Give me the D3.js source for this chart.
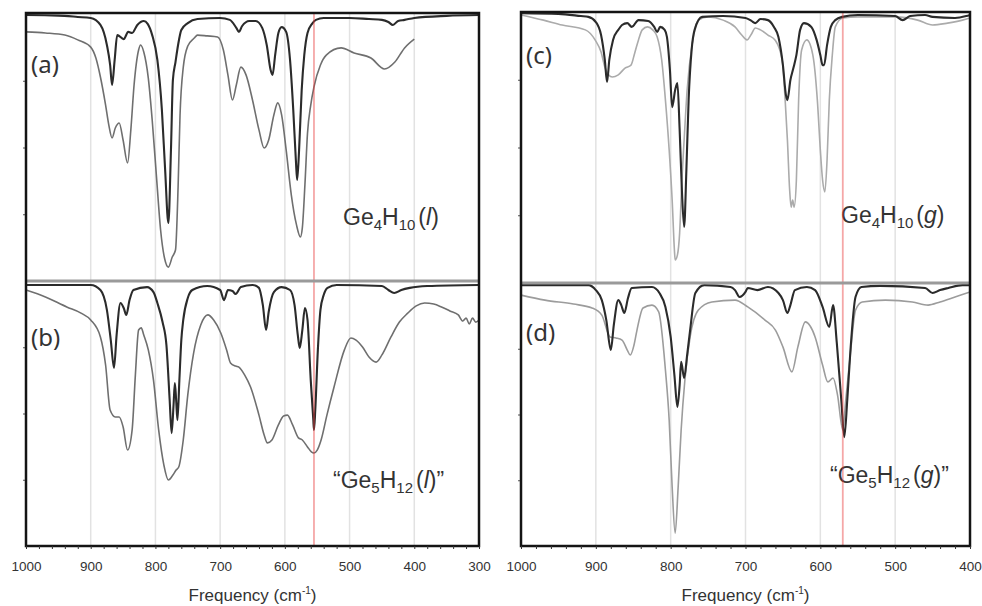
<!DOCTYPE html>
<html>
<head>
<meta charset="utf-8">
<script src="https://cdn.jsdelivr.net/npm/d3@7"></script>
<style>
body { margin: 0; background: #fff; }
svg { display: block; font-family: "Liberation Sans", Arial, sans-serif; }
</style>
</head>
<body>
<svg id="chart" width="982" height="606"></svg>
<script>
// transmittance (%) vs frequency (cm-1)
// dark = calculated, grey = measured
const calcA = [[1000,99.6],[950,99.4],[920,98.9],[900,98.5],[885,95.9],[875,88.4],[870,80.9],[867,73.4],[863,82.8],[859,92.1],[849,90.6],[842,93.3],[836,92.9],[828,95.9],[818,97.4],[812,96.3],[805,92.1],[797,82.8],[790,64.0],[785,41.6],[780,21.7],[776,49.1],[773,75.3],[769,82.0],[765,88.4],[760,94.0],[750,96.6],[735,98.1],[700,98.5],[685,97.8],[675,94.8],[671,93.3],[666,95.5],[655,97.4],[645,97.4],[635,94.8],[628,88.4],[622,79.0],[619,77.2],[615,84.6],[610,92.9],[605,95.1],[598,93.3],[592,82.8],[587,64.0],[583,45.3],[581,37.8],[578,49.1],[574,71.5],[570,84.6],[565,92.9],[558,96.3],[552,97.8],[540,98.5],[500,98.5],[470,98.1],[450,97.8],[440,97.0],[433,95.9],[425,97.4],[415,97.8],[400,98.5],[350,99.3],[300,99.6]]
const exptA = [[1000,93.3],[970,92.9],[940,92.1],[920,90.3],[900,87.6],[892,83.5],[885,76.4],[877,65.9],[872,58.4],[867,53.6],[862,57.3],[856,59.2],[850,52.8],[843,44.2],[838,56.6],[833,73.4],[826,86.5],[823,88.4],[818,85.8],[811,76.0],[805,60.3],[798,37.8],[792,19.1],[786,8.6],[780,5.2],[774,9.0],[769,11.6],[765,35.0],[762,62.0],[757,80.0],[750,88.0],[740,91.0],[735,92.1],[720,91.8],[704,91.4],[695,86.5],[688,77.2],[681,67.8],[675,73.4],[668,80.1],[660,77.2],[650,67.8],[640,56.6],[632,49.8],[625,52.8],[617,62.2],[611,66.7],[605,62.2],[598,49.1],[590,32.2],[582,21.0],[576,16.5],[573,19.9],[569,36.0],[565,55.4],[560,65.9],[555,72.7],[545,80.9],[536,84.6],[513,87.3],[493,85.4],[467,83.5],[446,79.4],[430,82.0],[415,87.3],[400,90.6]]

const calcB = [[1000,98.5],[900,98.5],[885,96.6],[875,89.1],[869,77.7],[864,67.2],[860,79.6],[854,91.7],[849,89.8],[845,87.2],[840,92.8],[834,96.6],[813,97.7],[803,95.8],[797,91.7],[789,84.5],[783,75.8],[778,55.1],[775,42.6],[772,53.2],[770,61.5],[768,55.1],[766,47.5],[763,62.6],[760,77.7],[757,85.3],[750,93.6],[743,96.6],[720,98.1],[700,96.6],[694,92.8],[688,96.6],[681,96.2],[676,95.1],[668,97.7],[650,98.5],[640,97.4],[634,90.9],[629,81.5],[625,88.3],[617,95.8],[605,97.7],[592,96.6],[585,90.9],[580,79.6],[577,74.7],[573,81.5],[569,89.8],[565,85.3],[560,62.6],[556,47.5],[555,43.8],[553,51.3],[549,74.0],[545,89.1],[540,94.7],[534,97.4],[520,98.5],[450,98.1],[440,96.6],[431,95.5],[420,96.6],[407,97.4],[380,98.1],[300,98.5]]
const exptB = [[1000,96.6],[970,94.0],[937,90.2],[915,87.9],[900,85.3],[885,78.9],[877,68.3],[870,51.3],[862,48.7],[856,48.7],[850,45.0],[843,36.2],[836,43.8],[831,64.5],[826,81.5],[822,82.3],[818,79.6],[811,74.0],[803,62.6],[795,43.8],[787,30.6],[780,24.9],[773,26.8],[768,28.7],[764,29.8],[757,40.0],[750,57.0],[741,72.8],[730,83.4],[719,87.2],[710,85.3],[699,80.4],[690,74.0],[684,69.1],[676,67.9],[671,67.5],[662,64.5],[653,60.0],[640,49.4],[632,41.9],[627,38.9],[620,40.0],[610,45.7],[602,49.1],[596,49.4],[588,45.7],[579,40.8],[573,40.0],[565,37.4],[559,35.5],[555,35.1],[550,36.2],[544,40.0],[535,49.4],[524,60.0],[508,74.0],[498,78.5],[490,77.7],[480,75.1],[470,71.3],[459,69.4],[450,72.1],[436,78.9],[423,84.5],[410,87.9],[397,90.6],[384,91.7],[370,91.3],[358,90.2],[345,88.7],[332,87.2],[325,84.9],[320,86.0],[315,83.8],[310,86.0],[305,84.5],[300,85.3]]

const calcC = [[1000,99.6],[950,99.3],[920,98.5],[910,98.2],[900,96.3],[893,91.5],[888,82.3],[885,74.2],[882,82.3],[877,89.7],[870,93.4],[865,95.2],[858,95.9],[852,94.5],[843,97.0],[830,96.7],[822,94.5],[818,92.6],[814,94.5],[808,93.4],[805,90.8],[801,78.6],[798,64.9],[794,71.2],[791,73.8],[788,56.5],[785,34.3],[782,20.7],[779,41.7],[776,67.5],[772,86.0],[768,93.4],[758,98.2],[730,98.5],[700,97.8],[692,96.7],[687,95.9],[680,97.4],[670,97.0],[662,94.5],[656,90.8],[650,80.4],[646,69.4],[644,67.5],[640,74.9],[636,79.3],[632,84.1],[627,93.4],[622,95.9],[612,94.5],[605,89.7],[600,84.1],[597,80.4],[595,80.4],[591,87.8],[586,94.5],[580,97.0],[571,98.2],[550,98.9],[500,98.5],[490,97.0],[480,98.5],[460,98.9],[450,98.2],[420,97.8],[405,98.5],[400,98.9]]
const exptC = [[1000,98.9],[970,97.0],[945,95.2],[914,93.4],[901,89.7],[893,85.2],[888,79.7],[883,76.8],[878,76.0],[870,76.8],[861,79.3],[853,80.4],[848,84.9],[843,89.7],[838,93.4],[831,94.5],[824,93.4],[818,90.8],[812,82.3],[807,67.5],[802,49.1],[798,30.6],[795,12.2],[794,8.5],[791,10.3],[788,18.5],[785,38.0],[782,52.8],[778,71.2],[771,88.6],[763,97.0],[750,98.2],[730,97.0],[714,94.5],[705,91.5],[698,89.7],[692,91.9],[687,94.1],[680,93.4],[670,91.5],[660,89.5],[651,82.3],[647,67.5],[644,52.8],[641,34.3],[639,28.0],[637,30.6],[635,28.0],[632,38.0],[629,67.5],[625,86.0],[618,89.7],[610,84.1],[604,67.5],[600,49.1],[597,38.0],[594,33.6],[591,45.4],[588,67.5],[584,84.1],[580,94.5],[570,97.8],[550,98.2],[500,98.2],[470,97.0],[450,95.2],[430,95.9],[410,97.0],[400,97.8]]

const calcD = [[1000,99.2],[910,99.2],[900,97.3],[892,93.5],[886,85.9],[880,74.5],[876,84.0],[870,93.5],[866,91.6],[862,88.6],[857,94.3],[852,98.1],[825,98.5],[815,96.2],[807,90.9],[800,79.5],[795,65.0],[791,52.9],[788,61.2],[786,70.0],[782,63.9],[778,72.6],[774,82.1],[767,96.2],[755,99.2],[720,98.5],[714,97.3],[708,94.7],[700,96.6],[697,98.1],[684,97.3],[670,98.5],[656,96.2],[650,93.5],[644,88.6],[640,91.6],[634,97.3],[618,98.5],[607,97.3],[597,90.9],[588,83.3],[583,91.6],[578,77.2],[572,55.5],[568,41.4],[564,55.5],[560,73.4],[553,94.7],[545,98.5],[520,98.9],[460,98.1],[450,96.2],[440,97.3],[429,98.1],[410,99.2],[400,99.2]]
const exptD = [[1000,95.4],[968,93.5],[930,92.0],[905,90.5],[892,87.8],[881,79.5],[873,79.1],[865,78.3],[858,74.5],[854,72.6],[849,76.4],[845,82.1],[837,90.5],[825,91.6],[816,89.0],[807,66.9],[802,47.9],[798,22.4],[794,4.9],[790,22.4],[786,44.1],[781,63.1],[774,79.5],[763,89.7],[745,92.8],[714,93.5],[697,90.9],[674,85.9],[660,82.1],[650,75.7],[638,66.2],[630,75.7],[620,85.2],[607,79.5],[597,68.8],[590,62.4],[583,63.9],[577,57.4],[570,44.1],[566,55.5],[560,72.6],[553,89.7],[544,92.8],[513,93.5],[477,92.8],[456,91.6],[440,92.8],[420,94.7],[400,96.6]]

const LEFT_TICKS = d3.range(1000, 299, -20)
const RIGHT_TICKS = d3.range(1000, 399, -20)
const LEFT_GRID = [900, 800, 700, 600, 500, 400]
const RIGHT_GRID = [900, 800, 700, 600, 500]
const LEFT_MARK = 555
const RIGHT_MARK = 570

const CALC_COLOR = "#2b2b2b"
const FRAME_COLOR = "#141414"

const svg = d3.select("#chart")

function drawPanel(cfg) {
    const x = d3.scaleLinear().domain(cfg.domain).range([cfg.left, cfg.right])
    const g = svg.append("g")

    // grid
    g.selectAll(".grid").data(cfg.grid).join("line")
        .attr("x1", d => x(d)).attr("x2", d => x(d))
        .attr("y1", cfg.top).attr("y2", cfg.bottom)
        .attr("stroke", "#e2e2e2").attr("stroke-width", 1.5)

    for (const sub of cfg.subs) {
        const y = d3.scaleLinear().domain([0, 100]).range([sub.y0, sub.y1])
        const line = d3.line()
            .x(d => x(d[0]))
            .y(d => y(d[1]))
            .curve(d3.curveMonotoneX)
        g.append("path").datum(sub.expt)
            .attr("d", line).attr("fill", "none")
            .attr("stroke", sub.exptColor).attr("stroke-width", 1.6)
        g.append("path").datum(sub.calc)
            .attr("d", line).attr("fill", "none")
            .attr("stroke", CALC_COLOR).attr("stroke-width", 2.1)

        g.append("g")
            .attr("transform", `translate(${cfg.left},0)`)
            .call(d3.axisLeft(y).tickValues([25, 50, 75]).tickSize(3).tickFormat(""))
            .call(a => a.select(".domain").remove())
            .call(a => a.selectAll("line").attr("stroke", "#555"))

        // panel letter
        g.append("text")
            .attr("x", cfg.left + 5).attr("y", sub.letterY)
            .attr("font-family", "'Noto Sans', 'Open Sans', sans-serif")
            .attr("font-size", 24).attr("fill", "#333")
            .text(sub.letter)

        // compound label
        const t = g.append("text")
            .attr("x", sub.labelX).attr("y", sub.labelY)
            .attr("font-size", 23).attr("fill", "#333")
        for (const [txt, kind] of sub.label) {
            const s = t.append("tspan").text(txt)
            if (kind === "sub") s.attr("font-size", 15).attr("dy", 5)
            if (kind === "up") s.attr("dy", -5)
            if (kind === "it") s.attr("font-style", "italic")
            if (kind === "gap") s.attr("dy", -5).attr("dx", 3)
        }
    }

    // marker line
    g.append("line")
        .attr("x1", x(cfg.mark)).attr("x2", x(cfg.mark))
        .attr("y1", cfg.top).attr("y2", cfg.bottom)
        .attr("stroke", "#e83c3c").attr("stroke-opacity", 0.45).attr("stroke-width", 1.8)

    // divider between the two spectra
    g.append("line")
        .attr("x1", cfg.left).attr("x2", cfg.right)
        .attr("y1", cfg.mid).attr("y2", cfg.mid)
        .attr("stroke", "#9a9a9a").attr("stroke-width", 3)

    // frame
    g.append("rect")
        .attr("x", cfg.left).attr("y", cfg.top)
        .attr("width", cfg.right - cfg.left).attr("height", cfg.bottom - cfg.top)
        .attr("fill", "none").attr("stroke", FRAME_COLOR).attr("stroke-width", 2.5)

    g.append("g")
        .attr("transform", `translate(0,${cfg.bottom})`)
        .call(d3.axisBottom(x).tickValues(cfg.ticks).tickSize(3).tickPadding(12)
            .tickFormat(d => d % 100 === 0 ? d : ""))
        .call(a => a.select(".domain").remove())
        .call(a => a.selectAll("line").attr("stroke", "#333"))
        .call(a => a.selectAll("text").attr("font-size", 13.5).attr("fill", "#333")
            .attr("font-family", "'Liberation Sans', Arial, sans-serif"))

    const title = g.append("text")
        .attr("x", (cfg.left + cfg.right) / 2).attr("y", 601)
        .attr("text-anchor", "middle").attr("font-size", 17).attr("fill", "#333")
    title.append("tspan").text("Frequency (cm")
    title.append("tspan").text("-1").attr("font-size", 10).attr("dy", -7)
    title.append("tspan").text(")").attr("dy", 7)
}

drawPanel({
    left: 26, right: 479, top: 13, mid: 281, bottom: 546,
    domain: [1000, 300], ticks: LEFT_TICKS, grid: LEFT_GRID, mark: LEFT_MARK,
    subs: [
        {y0: 281, y1: 14, calc: calcA, expt: exptA, exptColor: "#6f6f6f",
         letter: "(a)", letterY: 73, labelX: 343, labelY: 225,
         label: [["Ge"], ["4", "sub"], ["H", "up"], ["10", "sub"], ["(", "gap"], ["l", "it"], [")"]]},
        {y0: 546, y1: 281, calc: calcB, expt: exptB, exptColor: "#6f6f6f",
         letter: "(b)", letterY: 346, labelX: 333, labelY: 488,
         label: [["\u201cGe"], ["5", "sub"], ["H", "up"], ["12", "sub"], ["(", "gap"], ["l", "it"], [")\u201d"]]}
    ]
})

drawPanel({
    left: 521, right: 970, top: 12, mid: 283, bottom: 546,
    domain: [1000, 400], ticks: RIGHT_TICKS, grid: RIGHT_GRID, mark: RIGHT_MARK,
    subs: [
        {y0: 283, y1: 12, calc: calcC, expt: exptC, exptColor: "#ababab",
         letter: "(c)", letterY: 64, labelX: 841, labelY: 223,
         label: [["Ge"], ["4", "sub"], ["H", "up"], ["10", "sub"], ["(", "gap"], ["g", "it"], [")"]]},
        {y0: 546, y1: 283, calc: calcD, expt: exptD, exptColor: "#9c9c9c",
         letter: "(d)", letterY: 341, labelX: 830, labelY: 483,
         label: [["\u201cGe"], ["5", "sub"], ["H", "up"], ["12", "sub"], ["(", "gap"], ["g", "it"], [")\u201d"]]}
    ]
})
</script>
</body>
</html>
